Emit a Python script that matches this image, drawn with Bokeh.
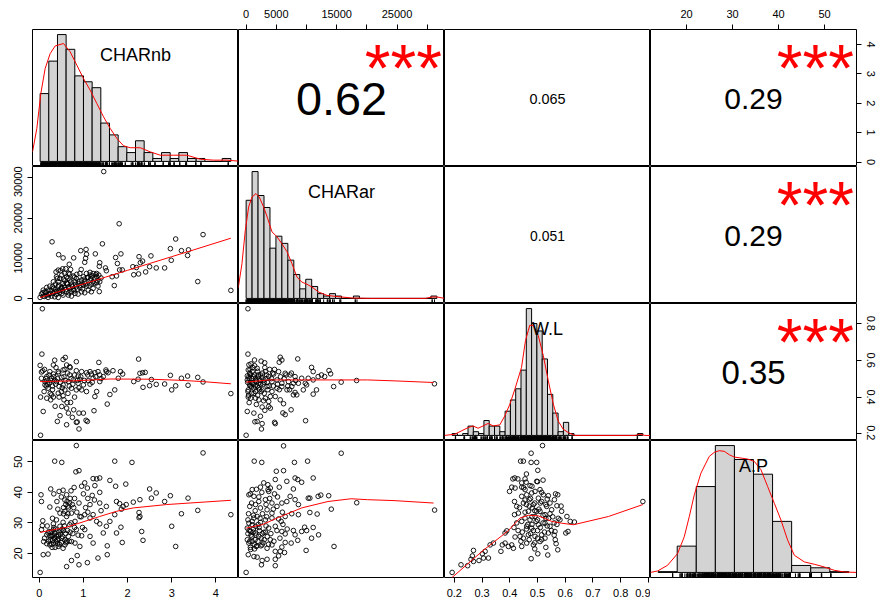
import math
from bokeh.plotting import figure
from bokeh.layouts import gridplot
from bokeh.models import Range1d, LinearAxis, FixedTicker
from bokeh.embed import file_html
from bokeh.resources import INLINE
from bokeh.core.properties import value

FONT = "Liberation Sans"

# ------------------------------------------------------------------ data
var_names = ["CHARnb", "CHARar", "W.L", "A.P"]

# scatter data: (x, y)
nb_ar = [(1.46,31600),(1.81,18600),(0.29,14100),(1.43,13600),(3.09,14800),(3.71,15900),(2.97,12400),(3.22,11900),(3.38,12100),(3.36,10700),
         (2.99,9500),(2.53,10600),(2.26,10400),(2.29,8900),(2.34,9300),(2.12,7900),(2.20,7700),(2.50,7900),(2.65,7600),(2.84,7600),
         (2.41,6600),(2.25,6100),(2.14,5900),(3.59,4200),(4.34,2000),(1.85,11100),(1.73,10200),(1.77,8700),(1.82,7100),(1.88,7100),
         (1.70,3200),(1.75,5600),(1.65,5400),(1.52,6900),(1.50,7600),(1.37,8900),(1.36,8000),(1.27,11100),(1.06,12200),(1.07,11000),
         (1.05,10000),(1.03,9000),(0.94,11900),(0.78,10100),(0.54,10100),(0.44,10900),(0.68,8500),(0.60,7400),(0.38,6600),(0.95,7200),
         (0.85,6000),(1.36,1700),(1.15,6500),(1.22,6200),(1.30,5400),
         (0.05,1080),(0.09,580),(0.13,1660),(0.17,830),(0.20,2070),(0.24,1240),(0.28,580),(0.32,2490),(0.35,1660),(0.39,1000),
         (0.43,2900),(0.47,2070),(0.51,1240),(0.54,3730),(0.58,2740),(0.62,1660),(0.66,830),(0.69,4560),(0.73,3320),(0.77,2240),
         (0.81,1240),(0.84,4980),(0.88,3730),(0.92,2740),(0.96,1660),(1.00,5390),(1.03,4150),(1.07,3070),(1.11,2070),(1.15,4560),
         (1.18,3570),(1.22,2490),(1.26,4980),(1.30,3900),(1.33,3070),(0.47,4980),(0.43,4150),(0.39,5390),(0.51,5810),(0.62,5390),
         (0.69,6060),(0.77,5560),(1.07,6220),(1.11,5230),(0.92,6220),(0.24,3070),(0.32,4150),(0.17,2740),(0.09,2070),(0.58,4400),
         (0.81,4150),(1.00,3320),(0.66,2900),(0.54,830),(0.35,410),(0.73,580),(0.88,1080),(1.03,1410),(1.18,1660),(0.02,250),
         (0.08,1410),(0.20,250),(0.43,250),(0.73,1660),(0.84,2900),(0.62,3730),(0.51,2740),(0.96,4560),(1.15,5810),(1.22,4150),
         (1.30,6220),(1.37,4150),(0.43,7050),(0.41,4980),(0.48,6890),(0.53,7390),(0.66,6220),(0.71,7220),(0.58,6220),
         (0.15,1500),(0.22,900),(0.27,1900),(0.31,1300),(0.36,2300),(0.40,1700),(0.44,3300),(0.46,1500),(0.50,2500),(0.53,1900),
         (0.56,3100),(0.60,2200),(0.64,3600),(0.67,1400),(0.70,2700),(0.72,4100),(0.75,3000),(0.79,1900),(0.82,3500),(0.86,2300),
         (0.90,4300),(0.94,3300),(0.98,2400),(1.02,4800),(1.05,3600),(1.09,5200),(1.13,3100),(1.17,4900),(1.20,5600),(1.24,3800),
         (1.28,5900),(1.32,4400),(1.35,5800),(1.40,5100),(0.37,3600),(0.55,4800),(0.65,5000),(0.80,5300),(0.30,2900),(0.12,500)]

nb_wl = [(0.07,0.879),(0.03,0.193),(0.06,0.633),(0.02,0.572),(0.05,0.536),(0.09,0.322),(0.03,0.40),
         (2.25,0.606),(2.24,0.497),(2.28,0.529),(2.34,0.532),(2.40,0.534),(2.14,0.484),(2.54,0.495),(2.35,0.453),(2.50,0.462),
         (2.65,0.469),(2.84,0.471),(2.97,0.518),(3.00,0.439),(3.09,0.461),(3.22,0.502),(3.37,0.464),(3.36,0.514),(3.59,0.507),
         (3.71,0.482),(4.34,0.419),
         (1.84,0.538),(1.89,0.525),(1.67,0.543),(1.79,0.502),(1.71,0.439),(1.60,0.414),(1.54,0.362),(1.52,0.538),(1.35,0.588),
         (1.33,0.538),(1.37,0.484),(1.30,0.43),(1.26,0.403),(1.24,0.326),(1.09,0.268),(1.06,0.274),(1.00,0.313),(0.90,0.313),
         (0.84,0.263),(0.90,0.227),(0.86,0.265),(0.75,0.29),(0.78,0.331),(0.66,0.313),(0.62,0.34),(0.56,0.385),(0.51,0.349),
         (0.47,0.299),(0.41,0.268),(0.62,0.25),(0.71,0.371),(0.54,0.407),(0.32,0.40),(0.26,0.385),(0.17,0.394),(0.28,0.412),
         (0.11,0.43),(0.13,0.466),(0.24,0.478),(0.35,0.493),(0.45,0.457),(0.54,0.466),(0.66,0.484),(0.77,0.493),(0.88,0.475),
         (1.00,0.466),(1.11,0.489),(1.22,0.502),(0.84,0.439),(0.73,0.448),(0.96,0.439),(1.07,0.43),(0.43,0.421),(0.58,0.439),
         (0.17,0.511),(0.32,0.525),(0.43,0.538),(0.54,0.547),(0.62,0.574),(0.69,0.565),(0.84,0.592),(0.59,0.615),(0.54,0.604),
         (0.35,0.60),(0.32,0.574),(0.24,0.538),(0.08,0.542),(0.96,0.538),(1.07,0.532),(1.18,0.525),(0.88,0.514),(0.69,0.52),
         (0.51,0.507),(0.39,0.484),(0.20,0.448),(0.28,0.502),(1.37,0.52),(1.45,0.511),(1.51,0.547),(1.56,0.532),(1.15,0.538),
         (1.26,0.532),(0.84,0.543),(0.92,0.496),(0.05,0.502),(0.13,0.484),
         (0.15,0.50),(0.19,0.47),(0.22,0.52),(0.26,0.49),(0.30,0.46),(0.33,0.51),(0.37,0.47),(0.41,0.50),(0.44,0.53),(0.48,0.48),
         (0.52,0.45),(0.56,0.51),(0.60,0.49),(0.64,0.53),(0.68,0.46),(0.72,0.50),(0.76,0.47),(0.80,0.52),(0.86,0.49),(0.94,0.51),
         (1.02,0.49),(1.10,0.52),(1.20,0.48),(1.28,0.51),(1.40,0.50),(0.25,0.42),(0.45,0.40),(0.65,0.42),(0.38,0.56),(0.58,0.55),
         (0.12,0.55),(0.30,0.44),(0.50,0.43),(0.70,0.56),(0.90,0.45),(0.16,0.46),(0.36,0.35),(0.63,0.37),(0.80,0.40),(1.15,0.47)]

nb_ap = [(0.02,13.8),(0.04,39.2),(0.05,37.0),(0.08,30.7),(0.07,29.1),(0.05,27.8),(0.09,19.6),(0.10,23.9),(0.20,19.8),(0.24,35.2),
         (0.26,41.1),(0.35,50.2),(0.51,49.8),(0.45,40.3),(0.54,40.7),(0.62,39.2),(0.69,36.5),(0.66,34.9),(0.58,33.8),(0.73,33.2),
         (0.84,55.3),(0.83,46.7),(0.90,47.1),(0.79,41.6),(0.96,42.0),(1.03,43.1),(1.09,41.4),(1.22,44.5),(1.30,44.4),(1.37,44.7),
         (1.26,42.2),(1.37,40.0),(1.60,43.9),(1.73,42.0),(1.71,50.2),(1.37,36.5),(1.52,35.4),(1.75,37.0),(1.82,36.3),(1.90,35.4),
         (1.71,32.7),(1.60,30.5),(1.52,28.9),(1.45,26.7),(1.75,26.7),(1.85,28.6),(1.88,23.6),(1.54,22.5),(1.54,19.6),(1.33,18.5),
         (1.09,17.0),(0.90,16.3),(0.86,19.3),(0.62,15.7),(0.73,17.7),(0.54,21.7),(0.43,22.3),(0.32,23.4),(0.24,22.8),(0.17,23.2),
         (0.28,25.6),(0.35,26.7),(0.43,26.1),(0.51,25.0),(0.58,24.5),(0.66,25.6),(0.73,23.9),(0.81,23.4),(0.92,22.3),(0.96,25.8),
         (1.03,27.8),(1.15,25.6),(1.22,23.4),(0.20,26.7),(0.32,27.8),(0.47,28.9),(0.54,30.2),(0.69,29.4),(0.81,30.5),(0.92,32.1),
         (1.03,32.7),(1.15,31.6),(1.22,32.7),(1.30,30.5),(1.37,29.7),(0.84,27.8),(0.62,32.1),(0.47,33.2),(0.39,31.0),(0.32,29.7),
         (0.17,26.1),(0.24,25.8),(0.35,25.0),(2.28,37.6),(2.13,36.8),(2.28,32.1),(2.26,33.4),(2.26,31.7),(2.32,27.2),(2.35,24.3),
         (2.50,41.1),(2.65,39.8),(2.54,38.1),(2.84,37.0),(2.97,38.9),(3.00,28.9),(3.09,22.3),(3.22,33.0),(3.37,38.1),(3.59,34.1),
         (3.71,52.9),(4.34,32.7),(1.96,42.7),(2.10,49.8),(1.86,34.5),(1.97,36.0),
         (0.25,24.5),(0.30,26.0),(0.38,24.0),(0.45,27.0),(0.28,23.0),(0.33,28.5),(0.40,25.5),(0.50,23.5),(0.55,27.5),(0.60,26.5),
         (0.22,27.2),(0.36,22.0),(0.44,24.8),(0.52,28.0),(0.58,22.8),(0.30,24.2),(0.42,23.2),(0.48,26.3),(0.62,24.0),(0.70,27.0),
         (0.65,35.5),(0.58,37.5),(0.70,38.0),(0.75,36.0),(0.60,36.0),(0.55,35.0),(0.50,38.5),(0.65,33.0),(0.78,35.0),(0.85,33.5),
         (0.95,32.0),(1.05,35.0),(1.10,38.0),(1.15,36.0),(1.00,39.5),(1.20,39.0),
         (0.12,25.0),(0.18,29.0),(0.21,24.0),(0.27,27.0),(0.29,22.0),(0.34,26.0),(0.37,28.0),(0.41,24.5),(0.46,23.0),(0.49,27.5),
         (0.53,25.5),(0.57,29.0),(0.61,23.5),(0.64,27.5),(0.68,24.0),(0.72,30.0),(0.76,26.5),(0.80,28.5),(0.88,26.0),(0.98,28.5),
         (0.30,31.5),(0.42,34.5),(0.55,33.0),(0.63,37.0),(0.72,40.5),(0.80,38.0),(0.90,36.5),(0.40,37.0),(0.33,39.5),(1.10,33.5),
         (1.25,37.5),(1.40,34.0)]

ar_wl = [(300,0.879),(0,0.193),(300,0.633),(190,0.322),(350,0.40),(31200,0.472),(18300,0.49),(15750,0.481),(14500,0.457),(13730,0.544),
         (14000,0.526),(11110,0.416),(11660,0.439),(10840,0.561),(11110,0.538),(11930,0.511),(9850,0.272),(7450,0.331),(6200,0.364),(6090,0.314),
         (6470,0.305),(4830,0.256),(4720,0.263),(3100,0.328),(4010,0.34),(3740,0.349),(2650,0.346),(2370,0.296),(1280,0.313),(1830,0.268),
         (1450,0.266),(2540,0.227),(2650,0.256),(5650,0.616),(5920,0.601),(8550,0.607),(5490,0.589),(1390,0.601),(2480,0.595),(3080,0.586),
         (460,0.575),(350,0.547),(740,0.521),(190,0.493),(570,0.466),(1280,0.448),(930,0.421),(1560,0.394),(2100,0.385),(3190,0.394),
         (3740,0.376),(4010,0.403),(4280,0.43),(5110,0.448),(5920,0.457),(6770,0.439),(7560,0.457),(8110,0.425),(8390,0.412),(9470,0.439),
         (10020,0.466),(9200,0.502),(8110,0.511),(7290,0.52),(6470,0.529),(5380,0.538),(4560,0.525),(3740,0.511),(2920,0.493),(2100,0.475),
         (1560,0.502),(1010,0.538),(1830,0.556),(2370,0.52),(3190,0.538),(4280,0.484),(5110,0.493),(5920,0.475),(7020,0.484),(7830,0.475),
         (8660,0.475),(10290,0.502),(11110,0.493),(12480,0.52),(13010,0.511),(3470,0.457),(2650,0.439),(1560,0.43),(740,0.394),(350,0.439),
         (1010,0.475),(4830,0.403),(5650,0.385),(7830,0.412),(9800,0.475),
         (500,0.50),(800,0.48),(1200,0.51),(1500,0.46),(2000,0.52),(2300,0.49),(2800,0.47),(3300,0.50),(600,0.53),(900,0.455),
         (1700,0.485),(2600,0.505),(3500,0.48),(4500,0.46),(200,0.515),(1100,0.56),(2200,0.44),(3000,0.42),(400,0.41),(1900,0.41),
         (250,0.48),(450,0.51),(700,0.46),(950,0.50),(1150,0.47),(1350,0.52),(1600,0.49),(1850,0.46),(2050,0.51),(2400,0.47),
         (2700,0.53),(3000,0.48),(3400,0.52),(3800,0.46),(4200,0.50),(4700,0.55),(5200,0.47),(5700,0.51),(6300,0.50),(6900,0.46),
         (7500,0.53),(8200,0.49),(300,0.43),(650,0.55),(1300,0.42),(1900,0.54),(2500,0.43),(3100,0.56),(3600,0.44),(4400,0.53),
         (500,0.37),(1700,0.36),(2900,0.38),(800,0.58),(1400,0.57),(2100,0.45),(3900,0.55),(5500,0.44),(6600,0.52),(7200,0.44)]

ar_ap = [(0,13.8),(6200,55.2),(15750,52.8),(1340,50.2),(2590,49.8),(8000,49.8),(10180,50.2),(5000,46.9),(6200,47.1),(8110,44.7),
         (8550,44.2),(9200,43.3),(11110,44.7),(6740,43.6),(5490,41.7),(4830,44.2),(3630,40.9),(4010,41.4),(2920,43.1),(2370,41.7),
         (1010,40.9),(460,39.2),(1290,38.7),(2100,38.5),(3190,37.6),(3740,40.3),(7830,41.1),(7290,38.7),(6740,37.0),(5920,36.5),
         (5110,35.4),(4280,36.5),(8110,37.6),(8660,36.0),(10290,38.1),(10560,38.1),(11930,38.7),(12370,39.1),(13680,38.9),(14110,34.5),
         (18320,36.6),(31220,34.2),(10560,33.4),(11770,32.9),(8660,32.7),(7560,33.0),(6470,32.1),(5380,31.3),(4280,31.6),(3190,31.0),
         (2370,30.2),(1290,31.6),(460,29.9),(190,28.3),(740,27.2),(1560,26.7),(2100,25.6),(2920,26.9),(3740,28.3),(4830,28.9),
         (5920,27.2),(6470,26.4),(7830,27.5),(8110,26.1),(9200,27.2),(9690,28.6),(10020,27.5),(11110,28.5),(10840,25.0),(12000,26.1),
         (8550,24.3),(7460,23.4),(6470,23.6),(5920,22.1),(5650,20.7),(6360,20.3),(4830,20.7),(4280,22.8),(3470,21.7),(2650,22.8),
         (1670,22.3),(1010,23.9),(460,23.4),(740,21.3),(350,19.6),(1290,19.0),(1830,18.8),(2650,17.7),(2540,16.3),(3470,18.1),
         (4830,18.1),(4830,16.0),(5380,19.2),(9940,21.0),(14560,22.3),(1560,28.9),(1010,29.4),(1830,32.1),(600,35.4),(1560,36.0),
         (2370,34.9),(3470,34.3),(4280,33.2),
         (800,26.0),(1500,24.5),(2200,27.5),(2800,23.5),(3500,25.5),(1200,28.0),(600,24.0),(1800,22.5),(2500,25.0),(3200,27.0),
         (4000,24.5),(1000,30.5),(2000,29.5),(300,26.5),(1400,21.5),
         (200,24.5),(500,27.5),(700,22.0),(950,25.5),(1150,27.0),(1350,23.0),(1650,26.0),(1950,24.0),(2150,28.5),(2450,22.5),
         (2700,26.5),(3000,24.5),(3300,29.0),(3700,23.0),(4100,26.5),(4600,24.0),(5100,27.5),(5600,25.0),(6100,29.5),(6800,28.0),
         (400,33.0),(900,36.5),(1500,34.0),(2100,37.0),(2700,33.0),(3300,36.0),(3900,38.0),(4500,34.5),(5200,38.5),(6000,33.5),
         (700,39.5),(1700,41.0),(2600,40.0),(3600,42.5),(4700,39.5),(300,31.0),(1200,32.5),(2300,31.5),(3400,32.0),(5800,30.5)]

wl_ap = [(0.192,13.8),(0.224,16.3),(0.248,16.0),(0.269,17.4),(0.26,18.1),(0.265,19.2),(0.269,21.0),(0.289,17.7),(0.305,18.5),(0.311,20.7),
         (0.301,19.9),(0.323,18.5),(0.329,22.8),(0.341,23.4),(0.368,20.7),(0.383,26.7),(0.389,27.4),(0.373,22.8),(0.383,23.4),(0.395,22.3),
         (0.407,22.8),(0.413,21.7),(0.419,25.4),(0.477,18.3),(0.501,19.9),(0.537,19.5),(0.573,21.2),(0.567,23.2),(0.564,24.5),(0.518,55.3),
         (0.477,52.8),(0.439,50.2),(0.449,50.2),(0.477,49.8),(0.497,49.8),(0.501,47.2),(0.411,44.4),(0.418,44.7),(0.429,44.4),(0.455,44.4),
         (0.459,43.3),(0.473,42.2),(0.497,43.6),(0.407,41.7),(0.399,40.3),(0.419,41.4),(0.443,41.7),(0.455,40.9),(0.491,40.3),(0.509,40.9),
         (0.539,38.9),(0.573,39.2),(0.561,37.6),(0.57,35.6),(0.417,37.0),(0.425,35.4),(0.417,32.7),(0.431,33.2),(0.449,36.5),(0.47,37.6),
         (0.485,36.0),(0.515,37.0),(0.533,35.4),(0.551,34.3),(0.509,33.8),(0.527,32.7),(0.491,32.1),(0.473,31.0),(0.455,31.6),(0.443,30.5),
         (0.461,28.9),(0.479,28.3),(0.503,29.4),(0.527,29.9),(0.545,28.9),(0.563,27.2),(0.539,26.7),(0.515,26.1),(0.491,25.6),(0.467,26.1),
         (0.449,25.0),(0.437,25.6),(0.461,23.4),(0.485,22.8),(0.509,23.9),(0.527,25.0),(0.443,22.3),(0.587,33.8),(0.606,32.1),(0.618,30.5),
         (0.633,30.3),(0.602,26.7),(0.61,27.2),(0.581,31.0),(0.88,37.0),(0.443,38.7),(0.461,39.2),(0.479,39.8),(0.503,38.1),(0.521,39.2),
         (0.443,43.1),(0.481,34.9),(0.497,33.8),(0.467,33.8),
         (0.47,35.5),(0.49,34.0),(0.51,36.5),(0.53,31.5),(0.46,28.0),(0.50,27.5),(0.52,30.0),(0.48,29.5),(0.455,37.5),(0.535,37.8),
         (0.50,31.0),(0.545,33.0),(0.475,26.5),(0.515,24.5),(0.49,23.5),
         (0.445,27.0),(0.455,33.5),(0.46,36.0),(0.465,29.5),(0.47,24.5),(0.475,38.0),(0.48,32.0),(0.485,27.5),(0.49,36.5),(0.495,30.5),
         (0.50,25.0),(0.505,34.5),(0.51,28.5),(0.515,40.0),(0.52,32.5),(0.525,27.0),(0.53,36.0),(0.535,29.0),(0.54,31.5),(0.545,36.5),
         (0.55,27.5),(0.555,32.0),(0.56,30.0),(0.435,35.0),(0.425,30.0),(0.45,41.5),(0.48,42.0),(0.50,43.5),(0.46,46.0),(0.52,44.0),
         (0.415,28.5),(0.43,27.5),(0.44,24.0),(0.49,21.5),(0.53,22.0),(0.56,26.0),(0.57,29.5),(0.575,31.5),(0.565,39.5),(0.585,35.5)]

# smoothers (red lines)
smooth_nb_ar = [(0.02,200),(0.5,1900),(1.0,3600),(1.5,5300),(2.0,7000),(2.5,8700),(3.0,10400),(3.5,12100),(4.34,15000)]
smooth_nb_wl = [(0.02,0.484),(0.8,0.488),(1.6,0.498),(2.5,0.497),(3.2,0.491),(3.7,0.484),(4.34,0.472)]
smooth_nb_ap = [(0.02,26.9),(0.62,28.6),(1.37,32.1),(1.75,33.8),(2.13,34.9),(2.88,36.0),(4.34,37.4)]
smooth_ar_wl = [(0,0.481),(3740,0.493),(9200,0.493),(20090,0.493),(24500,0.488),(31050,0.479)]
smooth_ar_ap = [(0,28.3),(2650,29.4),(5380,31.8),(9200,34.9),(13560,37.0),(17390,37.9),(20120,37.6),(24500,37.3),(31050,36.5)]
smooth_wl_ap = [(0.19,12.0),(0.30,20.7),(0.395,27.5),(0.437,31.6),(0.467,32.5),(0.503,32.3),(0.551,30.5),(0.587,29.9),(0.63,29.4),(0.756,32.1),(0.88,36.0)]

# histograms: first break, bin width, counts
nb_hist = (0.0, 0.2, [23,34,43,38,29,27,25,13,9,5,3,7,3,1,3,1,3,1,1,0,0,1])
ar_hist = (0.0, 1000.0, [41,53,43,38,21,26,23,16,10,4,8,5,2,1,2,1,0,0,1,0,0,0,0,0,0,0,0,0,0,0,0,1])
wl_hist = (0.18, 0.02, [1,0,1,5,2,1,8,5,5,2,13,19,25,35,68,60,56,41,22,12,2,7,1,0,0,0,0,0,0,0,0,0,0,0,0,1])
ap_hist = (10.0, 5.0, [1,34,111,164,146,127,66,9,6,1])

# kernel density curves (x, density)
nb_dens = [(-0.176,0.060),(-0.076,0.207),(0.016,0.426),(0.116,0.584),(0.232,0.677),(0.347,0.725),(0.539,0.740),(0.693,0.688),
           (0.847,0.604),(1.001,0.520),(1.155,0.447),(1.309,0.363),(1.463,0.280),(1.617,0.207),(1.771,0.144),(1.924,0.098),
           (2.078,0.086),(2.309,0.086),(2.54,0.060),(2.771,0.039),(3.078,0.039),(3.386,0.039),(3.694,0.014),(4.002,0.008),
           (4.309,0.008),(4.57,0.002)]
ar_dens = [(-1315,1.52e-5),(-700,4.9e-5),(-140,9.6e-5),(420,1.29e-4),(979,1.43e-4),(1651,1.48e-4),(2210,1.43e-4),(2938,1.29e-4),
           (3609,1.13e-4),(4337,9.4e-5),(5176,8.7e-5),(6015,7.7e-5),(6855,6.6e-5),(7694,4.9e-5),(8533,3.0e-5),(9373,2.3e-5),
           (10212,2.0e-5),(11052,1.6e-5),(12171,0.9e-5),(13570,0.43e-5),(14969,0.29e-5),(17767,0.06e-5),(20565,0.01e-5),
           (26161,0.01e-5),(30078,0.01e-5),(31197,0.2e-5),(32036,0.2e-5),(33267,0.01e-5)]
wl_dens = [(0.151,0.0),(0.190,0.082),(0.215,0.31),(0.241,0.54),(0.259,0.65),(0.278,0.49),(0.297,0.65),(0.316,0.82),(0.335,0.65),
           (0.360,0.72),(0.379,1.34),(0.398,2.14),(0.417,3.17),(0.442,4.66),(0.457,6.49),(0.473,7.53),(0.486,7.53),(0.505,6.84),
           (0.524,5.47),(0.543,3.74),(0.562,2.14),(0.580,1.0),(0.599,0.43),(0.618,0.2),(0.643,0.0),(0.870,0.0),(0.889,0.08),
           (0.908,0.0),(0.929,0.0)]
ap_dens = [(7.94,0.0),(9.86,0.00056),(12.48,0.00278),(15.10,0.00734),(16.85,0.01385),(18.16,0.02167),(19.47,0.03014),(21.22,0.0386),
           (23.41,0.04512),(24.72,0.04669),(26.03,0.04734),(27.34,0.04708),(28.65,0.04577),(29.96,0.04486),(31.71,0.04447),
           (33.46,0.04408),(35.21,0.04317),(36.96,0.03991),(38.71,0.03339),(40.46,0.02688),(42.20,0.02037),(43.95,0.01255),
           (45.70,0.00669),(48.33,0.00408),(50.95,0.00317),(53.57,0.00212),(56.19,0.00082),(58.81,0.00017),(61.96,0.0)]

# correlations (row, col, r, text, stars)
correlations = [(0, 1, 0.62, "0.62", "***"), (0, 2, 0.065, "0.065", ""), (0, 3, 0.29, "0.29", "***"),
                (1, 2, 0.051, "0.051", ""), (1, 3, 0.29, "0.29", "***"), (2, 3, 0.35, "0.35", "***")]

# axis ticks
nb_ticks = [0, 1, 2, 3, 4]
ar_ticks = [0, 5000, 10000, 15000, 20000, 25000, 30000]
ar_ticks_left = [0, 10000, 20000, 30000]
wl_ticks_bottom = [0.2, 0.3, 0.4, 0.5, 0.6, 0.7, 0.8, 0.9]
wl_ticks_right = [0.2, 0.4, 0.6, 0.8]
ap_ticks = [20, 30, 40, 50]

# ------------------------------------------------------------------ layout
FW, FH = 206, 137
BL, BR, BT, BB = 32, 24, 29, 26
TICK_FS = "11px"


def xs(pairs):
    return [a for a, _ in pairs]


def ys(pairs):
    return [b for _, b in pairs]


def ext(lo, hi, f=0.04):
    d = hi - lo
    return (lo - f * d, hi + f * d)


vals = {
    "CHARnb": xs(nb_ar) + xs(nb_wl) + xs(nb_ap),
    "CHARar": ys(nb_ar) + xs(ar_wl) + xs(ar_ap),
    "W.L": ys(nb_wl) + ys(ar_wl) + xs(wl_ap),
    "A.P": ys(nb_ap) + ys(ar_ap) + ys(wl_ap),
}
lims = {k: ext(min(v), max(v)) for k, v in vals.items()}


def make_fig(r, c, xr, yr):
    p = figure(frame_width=FW, frame_height=FH, x_range=xr, y_range=yr,
               x_axis_location=None, y_axis_location=None,
               output_backend="svg", toolbar_location=None, min_border=0,
               background_fill_color="white", border_fill_color="white")
    p.min_border_left = BL if c == 0 else 0
    p.min_border_right = BR if c == 3 else 0
    p.min_border_top = BT if r == 0 else 0
    p.min_border_bottom = BB if r == 3 else 0
    p.outline_line_color = "black"
    p.outline_line_width = 1
    p.grid.visible = False
    return p


def add_axis(p, side, ticks, hide=(), rname=None, vertical=False, standoff=4):
    kw = {}
    if rname:
        if side in ("above", "below"):
            kw["x_range_name"] = rname
        else:
            kw["y_range_name"] = rname
    ax = LinearAxis(ticker=FixedTicker(ticks=ticks), **kw)
    if hide:
        ax.major_label_overrides = {t: "" for t in hide}
    ax.axis_line_color = None
    ax.major_tick_in = 0
    ax.major_tick_out = 5
    ax.major_tick_line_color = "black"
    ax.minor_tick_line_color = None
    ax.major_label_text_font = FONT
    ax.major_label_text_font_size = TICK_FS
    ax.major_label_text_color = "black"
    ax.major_label_standoff = standoff
    if vertical:
        ax.major_label_orientation = "vertical"
    p.add_layout(ax, side)
    return ax


def hist_panel(r, c, hist, dens, rug, label):
    start, width, counts = hist
    n = sum(counts)
    left = [start + i * width for i in range(len(counts))]
    right = [l + width for l in left]
    top = [cnt / (n * width) for cnt in counts]
    x0, x1 = start, start + width * len(counts)
    dmax = max(top)
    xr = Range1d(*ext(x0, x1))
    yr = Range1d(*ext(0, dmax))
    p = make_fig(r, c, xr, yr)
    p.quad(left=left, right=right, bottom=[0] * len(counts), top=top,
           fill_color="#D3D3D3", line_color="black", line_width=1)
    p.line(xs(dens), ys(dens), line_color="red", line_width=1)
    y0 = yr.start
    y1 = yr.start + 0.03 * (yr.end - yr.start)
    p.segment(x0=rug, y0=[y0] * len(rug), x1=rug, y1=[y1] * len(rug),
              line_color="black", line_width=1)
    lfs = 18
    yl = yr.start + 0.816 * (yr.end - yr.start)
    p.text(x=[(xr.start + xr.end) / 2], y=[yl], text=[label],
           text_font=value(FONT), text_font_size=value(f"{lfs}px"),
           text_align="center", text_baseline="alphabetic", text_color="black")
    return p


def scatter_panel(r, c, pairs, smooth, xv, yv):
    p = make_fig(r, c, Range1d(*lims[xv]), Range1d(*lims[yv]))
    p.scatter(xs(pairs), ys(pairs), marker="circle", size=4.6,
              fill_color=None, line_color="black", line_width=0.9)
    p.line(xs(smooth), ys(smooth), line_color="red", line_width=1)
    return p


CW = {"0": 0.556, "1": 0.556, "2": 0.556, "3": 0.556, "4": 0.556, "5": 0.556,
      "6": 0.556, "7": 0.556, "8": 0.556, "9": 0.556, ".": 0.278, "-": 0.333}


def corr_panel(r, c, rv, txt, stars):
    p = make_fig(r, c, Range1d(0, 1), Range1d(0, 1))
    w = sum(CW.get(ch, 0.556) for ch in txt)
    base = 128.6 / w
    fs = base * (abs(rv) + 0.3) / 1.3
    p.text(x=[0.5], y=[0.493], text=[txt],
           text_font=value(FONT), text_font_size=value(f"{fs:.1f}px"),
           text_align="center", text_baseline="alphabetic", text_color="black")
    if stars:
        p.text(x=[0.8], y=[0.775 - 0.12 * base / FH], text=[stars],
               text_font=value(FONT), text_font_size=value(f"{base:.1f}px"),
               text_align="center", text_baseline="alphabetic", text_color="red")
    return p


grid = [[None] * 4 for _ in range(4)]
grid[0][0] = hist_panel(0, 0, nb_hist, nb_dens, vals["CHARnb"], "CHARnb")
grid[1][1] = hist_panel(1, 1, ar_hist, ar_dens, vals["CHARar"], "CHARar")
grid[2][2] = hist_panel(2, 2, wl_hist, wl_dens, vals["W.L"], "W.L")
grid[3][3] = hist_panel(3, 3, ap_hist, ap_dens, vals["A.P"], "A.P")

grid[1][0] = scatter_panel(1, 0, nb_ar, smooth_nb_ar, "CHARnb", "CHARar")
grid[2][0] = scatter_panel(2, 0, nb_wl, smooth_nb_wl, "CHARnb", "W.L")
grid[3][0] = scatter_panel(3, 0, nb_ap, smooth_nb_ap, "CHARnb", "A.P")
grid[2][1] = scatter_panel(2, 1, ar_wl, smooth_ar_wl, "CHARar", "W.L")
grid[3][1] = scatter_panel(3, 1, ar_ap, smooth_ar_ap, "CHARar", "A.P")
grid[3][2] = scatter_panel(3, 2, wl_ap, smooth_wl_ap, "W.L", "A.P")

for (r, c, rv, txt, st) in correlations:
    grid[r][c] = corr_panel(r, c, rv, txt, st)

# outer axes (R pairs style, alternating sides)
p = grid[0][1]
p.extra_x_ranges = {"ar": Range1d(*lims["CHARar"])}
add_axis(p, "above", ar_ticks, hide=(10000, 20000, 30000), rname="ar", standoff=7)

p = grid[0][3]
p.extra_x_ranges = {"ap": Range1d(*lims["A.P"])}
p.extra_y_ranges = {"nb": Range1d(*lims["CHARnb"])}
add_axis(p, "above", ap_ticks, rname="ap", standoff=7)
add_axis(p, "right", nb_ticks, rname="nb", vertical=True, standoff=5)

p = grid[2][3]
p.extra_y_ranges = {"wl": Range1d(*lims["W.L"])}
add_axis(p, "right", wl_ticks_right, rname="wl", vertical=True, standoff=5)

add_axis(grid[1][0], "left", ar_ticks_left, vertical=True, standoff=5)
add_axis(grid[3][0], "left", ap_ticks, vertical=True, standoff=5)
add_axis(grid[3][0], "below", nb_ticks, standoff=6)
add_axis(grid[3][2], "below", wl_ticks_bottom, standoff=6)

layout = gridplot(grid, toolbar_location=None)

with open("out.html", "w") as f:
    f.write(file_html(layout, INLINE))
